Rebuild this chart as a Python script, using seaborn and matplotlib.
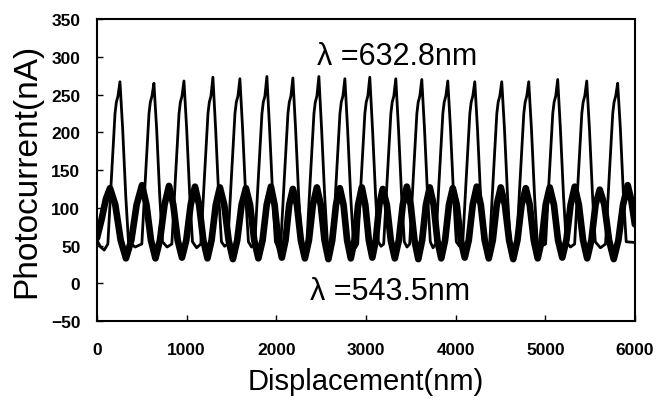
import matplotlib
matplotlib.use("Agg")
import matplotlib.pyplot as plt
import seaborn as sns
import pandas as pd

# ---- data ----
# lambda = 632.8 nm (thin line)
thin_x = [0, 40, 80,
          121, 161, 201, 216, 234, 256, 286, 321, 351, 425,
          500, 540, 580, 595, 613, 635, 665, 700, 730, 782,
          835, 875, 915, 930, 948, 970, 1000, 1035, 1065, 1111,
          1158, 1198, 1238, 1253, 1271, 1293, 1323, 1358, 1388, 1423,
          1459, 1499, 1539, 1554, 1572, 1594, 1624, 1659, 1689, 1724,
          1760, 1800, 1840, 1855, 1873, 1895, 1925, 1960, 1990, 2020,
          2050, 2090, 2130, 2145, 2163, 2185, 2215, 2250, 2280, 2310,
          2340, 2380, 2420, 2435, 2453, 2475, 2505, 2540, 2570, 2600,
          2630, 2670, 2710, 2725, 2743, 2765, 2795, 2830, 2860, 2884,
          2908, 2948, 2988, 3003, 3021, 3043, 3073, 3108, 3138, 3168,
          3198, 3238, 3278, 3293, 3311, 3333, 3363, 3398, 3428, 3458,
          3488, 3528, 3568, 3583, 3601, 3623, 3653, 3688, 3718, 3748,
          3778, 3818, 3858, 3873, 3891, 3913, 3943, 3978, 4008, 4043,
          4079, 4119, 4159, 4174, 4192, 4214, 4244, 4279, 4309, 4344,
          4380, 4420, 4460, 4475, 4493, 4515, 4545, 4580, 4610, 4645,
          4681, 4721, 4761, 4776, 4794, 4816, 4846, 4881, 4911, 4957,
          5004, 5044, 5084, 5099, 5117, 5139, 5169, 5204, 5234, 5281,
          5328, 5368, 5408, 5423, 5441, 5463, 5493, 5528, 5558, 5615,
          5673, 5713, 5753, 5768, 5786, 5808, 5838, 5873, 5903, 6000]
thin_y = [57, 48, 44,
          52, 140, 225, 240, 248, 267, 205, 115, 55, 48,
          52, 140, 225, 240, 248, 265, 205, 115, 55, 48,
          52, 140, 225, 240, 248, 268, 205, 115, 55, 47,
          52, 140, 225, 240, 248, 273, 205, 115, 55, 49,
          52, 140, 225, 240, 248, 271, 205, 115, 55, 48,
          52, 140, 225, 240, 248, 274, 205, 115, 55, 47,
          52, 140, 225, 240, 248, 272, 205, 115, 55, 49,
          52, 140, 225, 240, 248, 274, 205, 115, 55, 48,
          52, 140, 225, 240, 248, 271, 205, 115, 55, 47,
          52, 140, 225, 240, 248, 273, 205, 115, 55, 49,
          52, 140, 225, 240, 248, 271, 205, 115, 55, 48,
          52, 140, 225, 240, 248, 270, 205, 115, 55, 47,
          52, 140, 225, 240, 248, 268, 205, 115, 55, 49,
          52, 140, 225, 240, 248, 267, 205, 115, 55, 48,
          52, 140, 225, 240, 248, 267, 205, 115, 55, 47,
          52, 140, 225, 240, 248, 267, 205, 115, 55, 49,
          52, 140, 225, 240, 248, 270, 205, 115, 55, 48,
          52, 140, 225, 240, 248, 268, 205, 115, 55, 47,
          52, 140, 225, 240, 248, 265, 205, 115, 55, 54]

# lambda = 543.5 nm (thick line)
thick_x = [0, 50, 100, 145,
           204, 264, 323, 383, 442, 502,
           552, 602, 652, 702, 753, 803,
           851, 900, 948, 996, 1045, 1093,
           1139, 1186, 1232, 1278, 1325, 1371,
           1419, 1468, 1516, 1564, 1613, 1661,
           1707, 1754, 1800, 1847, 1893, 1940,
           1981, 2021, 2062, 2103, 2144, 2185,
           2230, 2274, 2319, 2364, 2408, 2453,
           2496, 2538, 2581, 2624, 2666, 2709,
           2750, 2790, 2831, 2872, 2913, 2954,
           2993, 3032, 3071, 3110, 3149, 3188,
           3233, 3277, 3322, 3367, 3411, 3456,
           3499, 3541, 3584, 3627, 3669, 3712,
           3755, 3797, 3840, 3883, 3926, 3969,
           4013, 4058, 4102, 4147, 4191, 4236,
           4281, 4325, 4370, 4415, 4459, 4504,
           4550, 4597, 4643, 4690, 4736, 4783,
           4827, 4872, 4916, 4961, 5005, 5050,
           5097, 5143, 5190, 5236, 5283, 5329,
           5375, 5422, 5468, 5515, 5561, 5608,
           5660, 5712, 5764, 5816, 5868, 5920,
           5960, 6000]
thick_y = [60, 84, 112, 126,
           104, 57, 33, 57, 104, 130,
           104, 57, 33, 57, 104, 129,
           104, 57, 34, 57, 104, 128,
           104, 57, 33, 57, 104, 127,
           104, 57, 32, 57, 104, 126,
           104, 57, 33, 57, 104, 128,
           104, 57, 34, 57, 104, 125,
           104, 57, 33, 57, 104, 127,
           104, 57, 32, 57, 104, 126,
           104, 57, 33, 57, 104, 127,
           104, 57, 34, 57, 104, 125,
           104, 57, 33, 57, 104, 128,
           104, 57, 32, 57, 104, 127,
           104, 57, 33, 57, 104, 126,
           104, 57, 34, 57, 104, 128,
           104, 57, 33, 57, 104, 127,
           104, 57, 32, 57, 104, 126,
           104, 57, 33, 57, 104, 127,
           104, 57, 34, 57, 104, 128,
           104, 57, 33, 57, 104, 124,
           104, 57, 32, 57, 104, 130,
           110, 78]

x_ticks = [0, 1000, 2000, 3000, 4000, 5000, 6000]
y_ticks = [-50, 0, 50, 100, 150, 200, 250, 300, 350]
label_thin = "λ =632.8nm"
label_thick = "λ =543.5nm"
x_label = "Displacement(nm)"
y_label = "Photocurrent(nA)"

# ---- plotting ----
sns.set_theme(style="white")
plt.rcParams['font.family'] = ['Liberation Sans', 'DejaVu Sans']
plt.rcParams['text.color'] = 'black'
plt.rcParams['axes.labelcolor'] = 'black'
plt.rcParams['xtick.color'] = 'black'
plt.rcParams['ytick.color'] = 'black'

fig = plt.figure(figsize=(6.69, 4.02), dpi=100)
ax = fig.add_axes([0.145, 0.199, 0.804, 0.751])

thin_df = pd.DataFrame({"x": thin_x, "y": thin_y})
thick_df = pd.DataFrame({"x": thick_x, "y": thick_y})

sns.lineplot(data=thick_df, x="x", y="y", sort=False, estimator=None,
             color="black", linewidth=4.8, ax=ax)
sns.lineplot(data=thin_df, x="x", y="y", sort=False, estimator=None,
             color="black", linewidth=2.0, ax=ax)

ax.set_xlim(0, 6000)
ax.set_ylim(-50, 350)
ax.set_xticks(x_ticks)
ax.set_yticks(y_ticks)
ax.set_xticklabels([str(v) for v in x_ticks], fontsize=12.5, fontweight="bold")
ax.set_yticklabels([str(v).replace("-", "\u2212") for v in y_ticks], fontsize=12.5, fontweight="bold")
ax.tick_params(axis="x", direction="in", length=4, width=1, pad=15, bottom=True, top=False)
ax.tick_params(axis="y", direction="in", length=4, width=1, pad=12, left=True, right=False)

for s in ax.spines.values():
    s.set_visible(True)
    s.set_color("black")
    s.set_linewidth(1.5)

ax.set_xlabel(x_label, fontsize=21, labelpad=7)
ax.set_ylabel(y_label, fontsize=24, labelpad=6)

ax.text(2453, 301, label_thin, fontsize=22, va="center", ha="left")
ax.text(2375, -10, label_thick, fontsize=22, va="center", ha="left")

ax.grid(False)
fig.savefig("out.png", dpi=100, facecolor="white")
